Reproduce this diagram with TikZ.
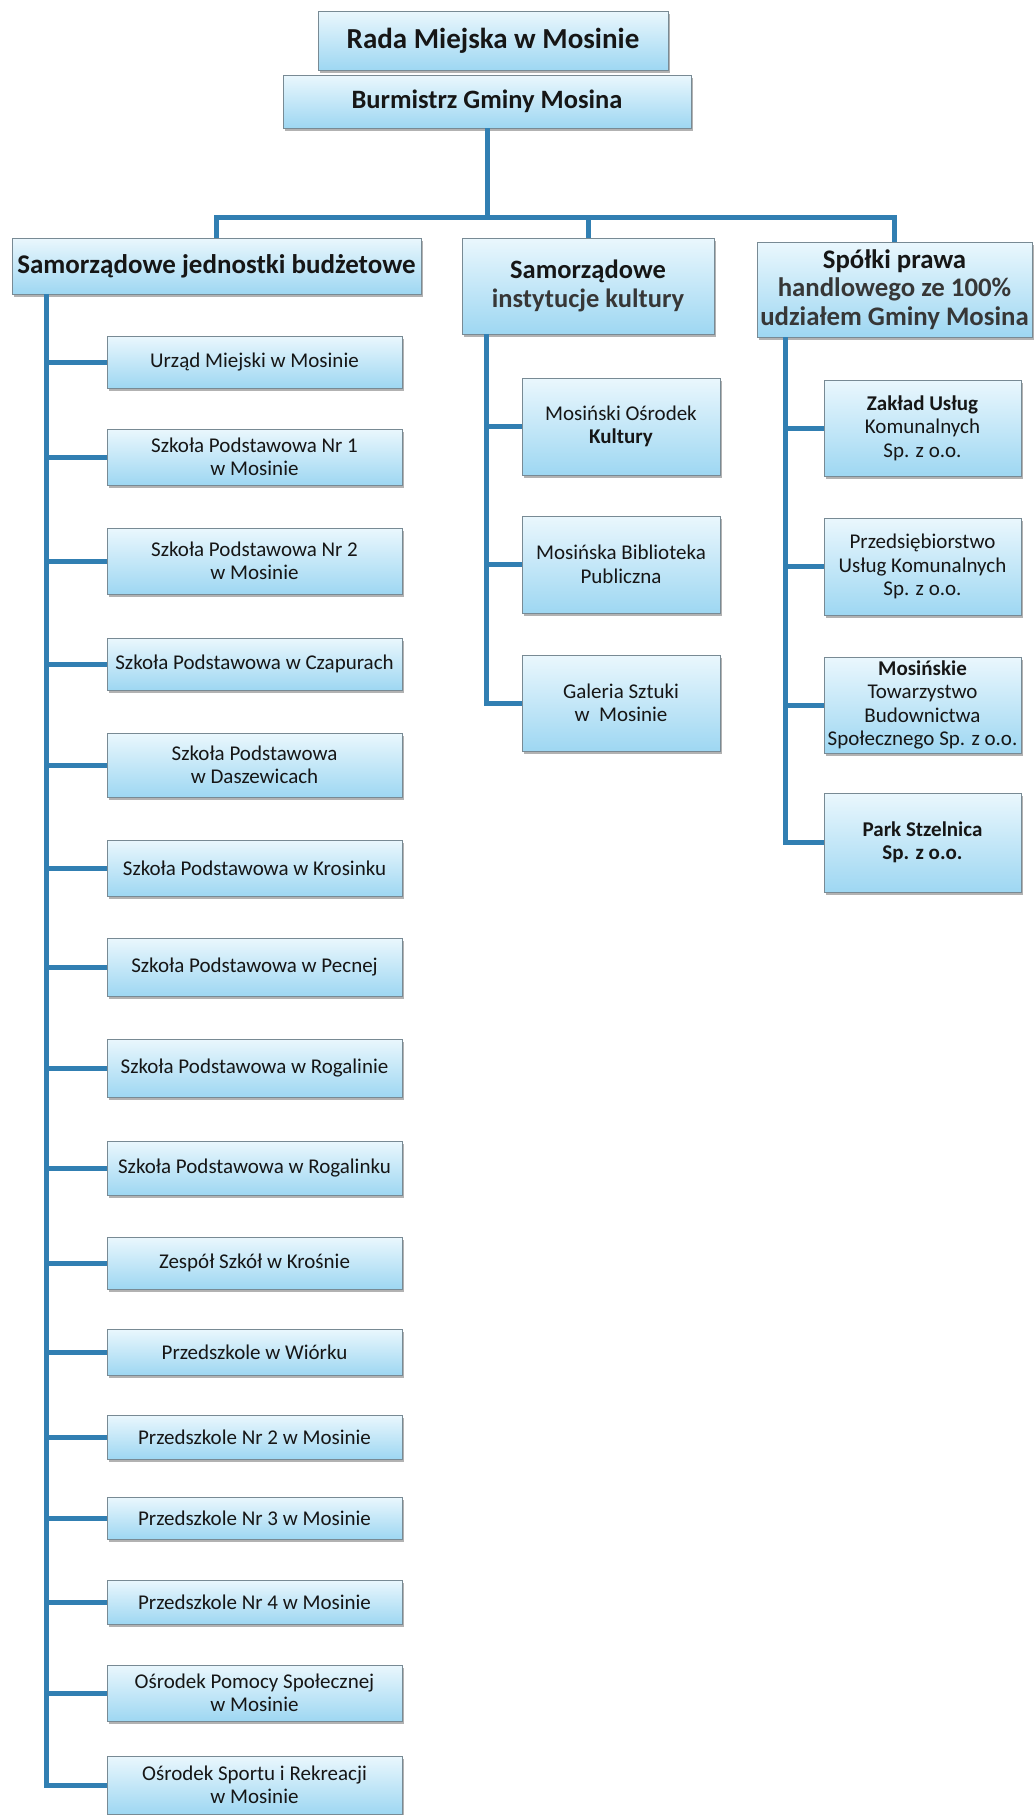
\documentclass[tikz,border=0pt]{standalone}
\usepackage{fontspec}
\setmainfont{Carlito}
\usepackage{xcolor}
\usetikzlibrary{shadows}

\definecolor{linkblue}{RGB}{49,127,178}
\definecolor{boxtop}{RGB}{234,247,253}
\definecolor{boxbottom}{RGB}{158,215,242}
\definecolor{edgegray}{RGB}{120,138,148}
\definecolor{ink}{RGB}{22,22,22}
\definecolor{inkgray}{RGB}{55,55,55}

\tikzset{
  unit/.style={draw=edgegray, line width=0.6pt, top color=boxtop, bottom color=boxbottom,
    inner sep=0pt, align=center, text=ink,
    drop shadow={shadow xshift=1.5pt, shadow yshift=-2.5pt, fill=black, opacity=0.3}},
  item/.style={unit, font=\fontsize{21}{23.5}\selectfont},
  head/.style={unit, font=\bfseries\fontsize{26.8}{28.5}\selectfont},
  link/.style={draw=linkblue, line width=5pt},
}

\begin{document}
\begin{tikzpicture}[x=1pt, y=-1pt]
\fill [white] (0,0) rectangle (1035,1815);
\useasboundingbox (0,0) rectangle (1035,1815);

\node (R) at (493,40.5) [head, minimum width=350, minimum height=59, font=\bfseries\fontsize{29}{32}\selectfont] {Rada Miejska w Mosinie};
\node (B) at (487,101.5) [head, minimum width=408, minimum height=53, font=\bfseries\fontsize{26.5}{28}\selectfont] {Burmistrz Gminy Mosina};

\node (H1) at (216.5,266) [head, minimum width=409, minimum height=56, font=\bfseries\fontsize{27}{30}\selectfont] {Samorządowe jednostki budżetowe};
\node (H2) at (588,286) [head, minimum width=252, minimum height=96, font=\bfseries\fontsize{26.5}{28.5}\selectfont] {Samorządowe\\\textcolor{inkgray}{instytucje kultury}};
\node (H3) at (894.5,289.5) [head, minimum width=275, minimum height=95] {Spółki prawa\\\textcolor{inkgray}{handlowego ze 100\%}\\\textcolor{inkgray}{udziałem Gminy Mosina}};

\coordinate (J) at (487,217);
\coordinate (S1) at (46,294);
\coordinate (S2) at (486,334);
\coordinate (S3) at (785,337);

% jednostki budzetowe
\node (L1) at (254.5,362) [item, minimum width=295, minimum height=52] {Urząd Miejski w Mosinie};
\node (L2) at (254.5,457) [item, minimum width=295, minimum height=56] {Szkoła Podstawowa Nr 1\\w Mosinie};
\node (L3) at (254.5,561) [item, minimum width=295, minimum height=66] {Szkoła Podstawowa Nr 2\\w Mosinie};
\node (L4) at (254.5,664) [item, minimum width=295, minimum height=52] {Szkoła Podstawowa w Czapurach};
\node (L5) at (254.5,765) [item, minimum width=295, minimum height=64] {Szkoła Podstawowa\\w Daszewicach};
\node (L6) at (254.5,868) [item, minimum width=295, minimum height=56] {Szkoła Podstawowa w Krosinku};
\node (L7) at (254.5,967) [item, minimum width=295, minimum height=58] {Szkoła Podstawowa w Pecnej};
\node (L8) at (254.5,1068) [item, minimum width=295, minimum height=58] {Szkoła Podstawowa w Rogalinie};
\node (L9) at (254.5,1168) [item, minimum width=295, minimum height=54] {Szkoła Podstawowa w Rogalinku};
\node (L10) at (254.5,1263) [item, minimum width=295, minimum height=52] {Zespół Szkół w Krośnie};
\node (L11) at (254.5,1352) [item, minimum width=295, minimum height=46] {Przedszkole w Wiórku};
\node (L12) at (254.5,1437) [item, minimum width=295, minimum height=44] {Przedszkole Nr 2 w Mosinie};
\node (L13) at (254.5,1518) [item, minimum width=295, minimum height=42] {Przedszkole Nr 3 w Mosinie};
\node (L14) at (254.5,1602) [item, minimum width=295, minimum height=44] {Przedszkole Nr 4 w Mosinie};
\node (L15) at (254.5,1693) [item, minimum width=295, minimum height=56] {Ośrodek Pomocy Społecznej\\w Mosinie};
\node (L16) at (254.5,1785) [item, minimum width=295, minimum height=58] {Ośrodek Sportu i Rekreacji\\w Mosinie};

% instytucje kultury
\node (M1) at (621,426.5) [item, minimum width=198, minimum height=97] {Mosiński Ośrodek\\\textbf{Kultury}};
\node (M2) at (621,564.5) [item, minimum width=198, minimum height=97] {Mosińska Biblioteka\\Publiczna};
\node (M3) at (621,703) [item, minimum width=198, minimum height=96] {Galeria Sztuki\\w~ Mosinie};

% spolki
\node (P1) at (922.5,428) [item, minimum width=197, minimum height=96] {\textbf{Zakład Usług}\\Komunalnych\\Sp. z o.o.};
\node (P2) at (922.5,566.5) [item, minimum width=197, minimum height=97] {Przedsiębiorstwo\\Usług Komunalnych\\Sp. z o.o.};
\node (P3) at (922.5,705) [item, minimum width=197, minimum height=96] {\textbf{Mosińskie}\\Towarzystwo\\Budownictwa\\Społecznego Sp. z o.o.};
\node (P4) at (922.5,842.5) [item, minimum width=197, minimum height=99] {\textbf{Park Stzelnica}\\\textbf{Sp. z o.o.}};

\draw [link] (B) -- (J);
\draw [link] (J) -| (H1);
\draw [link] (J) -| (H2);
\draw [link] (J) -| (H3);

\draw [link] (S1) |- (L16);
\draw [link] (S1 |- L1) -- (L1);
\draw [link] (S1 |- L2) -- (L2);
\draw [link] (S1 |- L3) -- (L3);
\draw [link] (S1 |- L4) -- (L4);
\draw [link] (S1 |- L5) -- (L5);
\draw [link] (S1 |- L6) -- (L6);
\draw [link] (S1 |- L7) -- (L7);
\draw [link] (S1 |- L8) -- (L8);
\draw [link] (S1 |- L9) -- (L9);
\draw [link] (S1 |- L10) -- (L10);
\draw [link] (S1 |- L11) -- (L11);
\draw [link] (S1 |- L12) -- (L12);
\draw [link] (S1 |- L13) -- (L13);
\draw [link] (S1 |- L14) -- (L14);
\draw [link] (S1 |- L15) -- (L15);

\draw [link] (S2) |- (M3);
\draw [link] (S2 |- M1) -- (M1);
\draw [link] (S2 |- M2) -- (M2);

\draw [link] (S3) |- (P4);
\draw [link] (S3 |- P1) -- (P1);
\draw [link] (S3 |- P2) -- (P2);
\draw [link] (S3 |- P3) -- (P3);
\end{tikzpicture}
\end{document}
